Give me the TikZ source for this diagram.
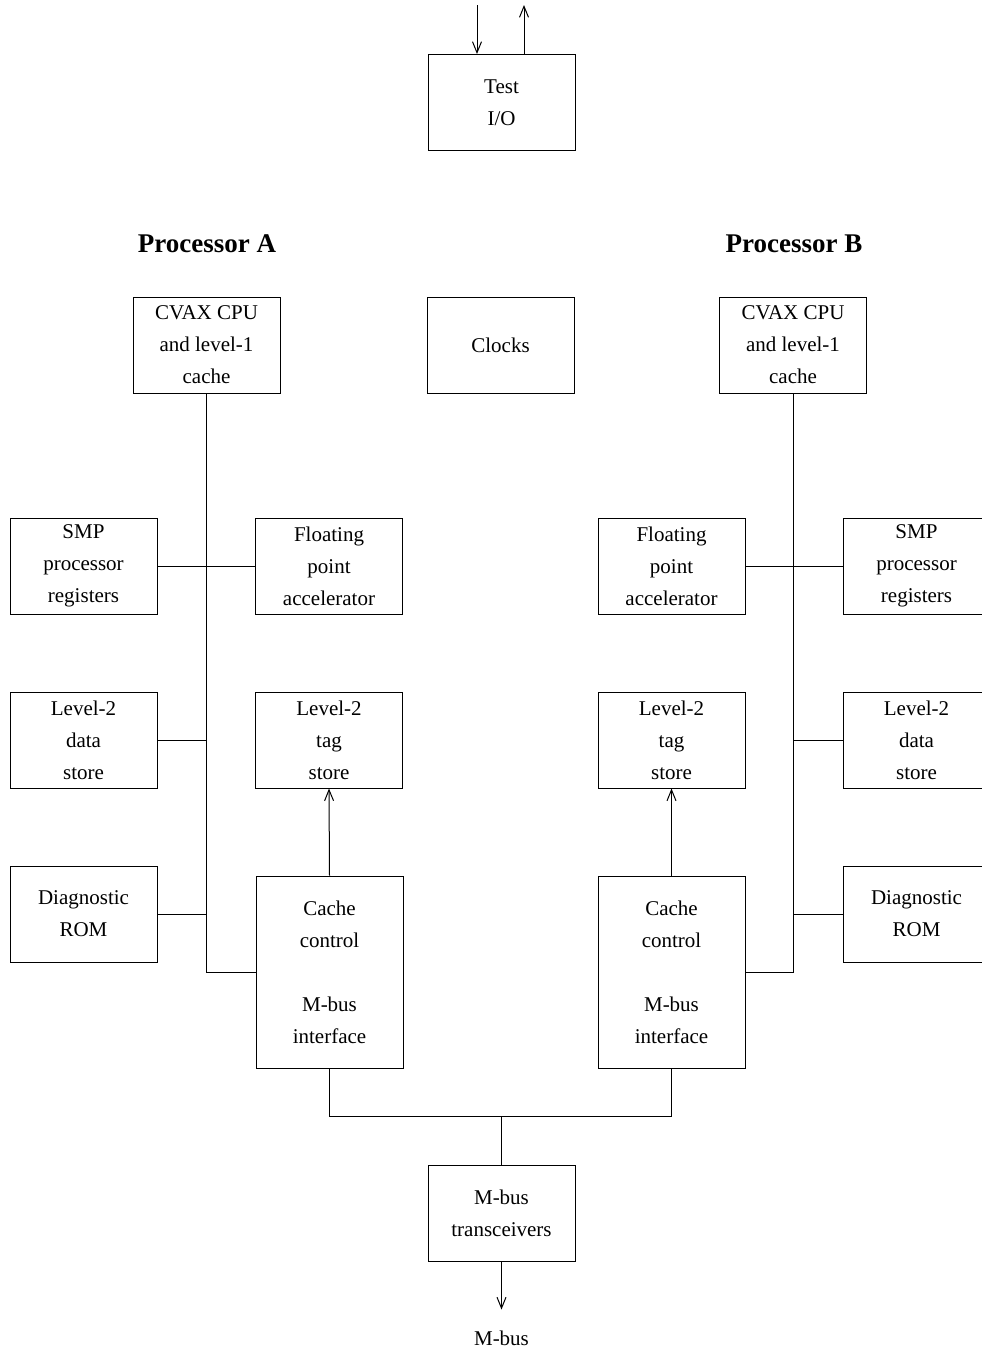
\documentclass[tikz,border=0pt]{standalone}
\usepackage{fontspec}
\setmainfont{Liberation Serif}
\usetikzlibrary{arrows.meta,calc}
\begin{document}
\begin{tikzpicture}[x=1pt,y=-1pt,
  box/.style={draw,line width=1pt,minimum width=147pt,minimum height=96pt,inner sep=0pt,align=center,font=\fontsize{21}{32}\selectfont},
  tall/.style={box,minimum height=192pt},
  lbl/.style={font=\fontsize{21}{32}\selectfont},
  title/.style={font=\fontsize{27}{30}\selectfont\bfseries},
  ln/.style={line width=1pt},
  arr/.style={ln,-{Straight Barb[length=11pt,width=9pt,line width=1pt]}}]
\clip (0,0) rectangle (982,1350);
\useasboundingbox (0,0) rectangle (982,1350);
% top
\node[box] (tio) at (501.5,102.5) {Test\\I/O};
\coordinate (tin) at (477,5);
\coordinate (tout) at (524,5);
\draw[arr] (tin) -- (tin |- tio.north);
\draw[arr] (tout |- tio.north) -- (tout);
% titles
\node[title] (pa) at (207,244) {Processor A};
\node[title] (pb) at (794,244) {Processor B};
% row 1
\node[box] (cpua) at (206.5,345) {CVAX CPU\\and level-1\\cache};
\node[box] (clk) at (500.5,345) {Clocks};
\node[box] (cpub) at (793,345) {CVAX CPU\\and level-1\\cache};
% side A
\node[box] (smpa) at (83.5,566) {SMP\\processor\\registers};
\node[box] (fpa) at (329,566) {Floating\\point\\accelerator};
\node[box] (l2da) at (83.5,740) {Level-2\\data\\store};
\node[box] (l2ta) at (329,740) {Level-2\\tag\\store};
\node[box] (roma) at (83.5,914) {Diagnostic\\ROM};
\node[tall] (cca) at (329.5,972) {Cache\\control\\\mbox{}\\M-bus\\interface};
% side B
\node[box] (fpb) at (671.5,566) {Floating\\point\\accelerator};
\node[box] (smpb) at (916.5,566) {SMP\\processor\\registers};
\node[box] (l2tb) at (671.5,740) {Level-2\\tag\\store};
\node[box] (l2db) at (916.5,740) {Level-2\\data\\store};
\node[box] (romb) at (916.5,914) {Diagnostic\\ROM};
\node[tall] (ccb) at (671.5,972) {Cache\\control\\\mbox{}\\M-bus\\interface};
% transceivers
\node[box] (trx) at (501.5,1213) {M-bus\\transceivers};
\node[lbl] (mbus) at (501.5,1338) {M-bus};
% bus A
\draw[ln] (cpua.south) -- (cpua.south |- cca.west) -- (cca.west);
\draw[ln] (smpa.east) -- (fpa.west);
\draw[ln] (l2da.east) -- (l2da.east -| cpua.south);
\draw[ln] (roma.east) -- (roma.east -| cpua.south);
\draw[arr] (cca.north) -- (l2ta.south);
% bus B
\draw[ln] (cpub.south) -- (cpub.south |- ccb.east) -- (ccb.east);
\draw[ln] (fpb.east) -- (smpb.west);
\draw[ln] (l2db.west) -- (l2db.west -| cpub.south);
\draw[ln] (romb.west) -- (romb.west -| cpub.south);
\draw[arr] (ccb.north) -- (l2tb.south);
% M-bus
\coordinate (bj) at (501.5,1116);
\draw[ln] (cca.south) -- (cca.south |- bj) -- (ccb.south |- bj) -- (ccb.south);
\draw[ln] (bj) -- (trx.north);
\draw[arr] (trx.south) -- ($(trx.south)+(0,48)$);
\end{tikzpicture}
\end{document}
